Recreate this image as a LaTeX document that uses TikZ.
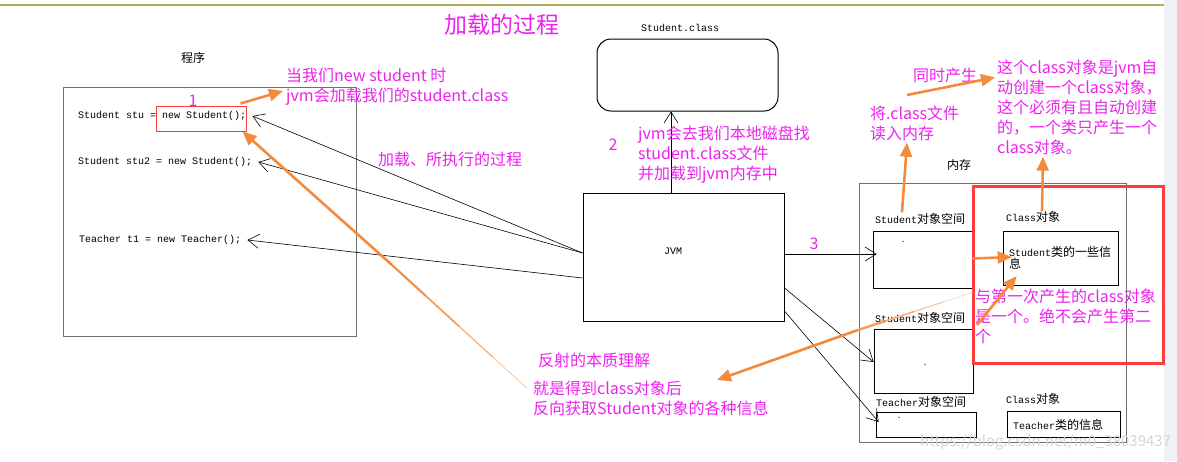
\documentclass[tikz,border=0pt]{standalone}
\usepackage{fontspec}
\setmainfont{Noto Sans CJK SC}
\newfontfamily\cjk{Noto Sans CJK SC}
\newfontfamily\code{Liberation Mono}
\usetikzlibrary{arrows.meta, calc}
\definecolor{bpink}{HTML}{EE22EE}
\definecolor{borange}{HTML}{F58A3C}
\definecolor{bred}{HTML}{FF3C3C}
\definecolor{bgray}{HTML}{707070}
\definecolor{bolive}{HTML}{B0AE5C}
\definecolor{bmark}{HTML}{D6D6D6}
\definecolor{bstrip}{HTML}{EFF1F6}
\tikzstyle{block} = [rectangle, draw=bgray, line width=1pt, inner sep=0pt]
\tikzstyle{space} = [rectangle, draw, line width=0.7pt, inner sep=0pt]
\tikzstyle{arrow} = [draw, line width=0.6pt, -{Straight Barb[length=11pt,width=14pt]}]
\tikzstyle{hint} = [draw=borange, line width=2.6pt, -{Triangle[length=14pt,width=12pt]}]
\tikzstyle{note} = [bpink, font=\cjk\fontsize{16}{20}\selectfont, align=left, inner sep=0pt]
\tikzstyle{src} = [font=\code\fontsize{10}{12}\selectfont, inner sep=0pt]
\newcommand{\zh}[1]{{\cjk\fontsize{12}{14}\selectfont #1}}

\begin{document}
\begin{tikzpicture}[x=1pt, y=-1pt]
\fill[white] (0,0) rectangle (1177,461);
\useasboundingbox (0,0) rectangle (1177,461);
\fill[bstrip] (1164,0) rectangle (1177,461);
\draw[bolive, line width=1.5pt] (0,5) -- (1164,5);

\node[bpink, font=\cjk\fontsize{23}{28}\selectfont, inner sep=0pt] (title) at (502,25) {加载的过程};

%% program
\node[inner sep=0pt] (proglbl) at (193,58) {\zh{程序}};
\node[block, minimum width=293pt, minimum height=249pt] (prog) at (209.5,211.5) {};
\node[src, anchor=west] (stu) at (78,116) {Student stu = new Student();};
\node[src, anchor=west] (stu2) at (78,162) {Student stu2 = new Student();};
\node[src, anchor=west] (tea1) at (79,240) {Teacher t1 = new Teacher();};
\node[draw=bred, line width=1pt, minimum width=90pt, minimum height=25pt, inner sep=0pt] (newstu) at (201,118.5) {};
\node[note] (one) at (193,101) {1};

\node[note, anchor=west] (loadnote) at (286,87) {当我们new student 时\\jvm会加载我们的student.class};
\path[hint] ([xshift=-6pt,yshift=2pt]newstu.north east) -- ([xshift=-3pt,yshift=-4pt]loadnote.west);

\node[note] (steps) at (450,159) {加载、所执行的过程};

%% jvm and class file
\node[src] (clsname) at (680,28) {Student.class};
\node[block, draw=black, rounded corners=14pt, minimum width=181pt, minimum height=72pt] (clsfile) at (687.5,75) {};
\node[block, draw=black, minimum width=201pt, minimum height=128pt] (jvm) at (683.5,257) {};
\node[src] (jvmname) at (673,251) {JVM};

\path[arrow] ([yshift=4pt]jvm.west) -- ([xshift=6pt]stu.east);
\path[arrow] ([yshift=4pt]jvm.west) -- ([xshift=6pt]stu2.east);
\path[arrow] ([yshift=-21pt]jvm.west) -- ([xshift=6pt]tea1.east);

\path[arrow] ([xshift=-12.5pt]jvm.north) -- ([xshift=-16.5pt]clsfile.south);
\node[note] (two) at (613,145) {2};
\node[note, anchor=west] (findnote) at (638,155) {jvm会去我们本地磁盘找\\student.class文件\\并加载到jvm内存中};

%% memory
\node[inner sep=0pt] (memlbl) at (959,165) {\zh{内存}};
\node[block, minimum width=267pt, minimum height=259pt] (mem) at (992.5,312.5) {};
\node[src] (stuAlbl) at (920,219) {Student\zh{对象空间}};
\node[space, minimum width=99pt, minimum height=57pt] (stuA) at (922.5,259.5) {};
\node[src] (stuBlbl) at (920,318) {Student\zh{对象空间}};
\node[space, minimum width=99pt, minimum height=64pt] (stuB) at (923.5,361) {};
\node[src] (tealbl) at (921,402) {Teacher\zh{对象空间}};
\node[space, minimum width=100pt, minimum height=25pt] (teaA) at (926,424.5) {};
\node[src] at (903,245) {\symbol{96}};
\node[src] at (925,368) {\symbol{96}};
\node[src] at (899,421) {\symbol{96}};

\node[src] (clslbl) at (1033,217) {Class\zh{对象}};
\node[space, minimum width=115pt, minimum height=54pt] (clsobj) at (1060.5,258) {};
\node[src, anchor=west, align=left] (clsinfo) at (1009,258) {Student\zh{类的一些信}\\\zh{息}};
\node[src] (teaclslbl) at (1033,399) {Class\zh{对象}};
\node[space, minimum width=113pt, minimum height=26pt] (teacls) at (1063.5,424) {};
\node[src] (teainfo) at (1058,425) {Teacher\zh{类的信息}};

\path[arrow] ([yshift=3pt]jvm.east) -- ([xshift=4pt,yshift=5.5pt]stuA.west);
\node[note] (three) at (814,244) {3};
\path[arrow] ([yshift=-31pt]jvm.east) -- ([yshift=-1pt]stuB.west);
\path[arrow] ([yshift=-54pt]jvm.east) -- ([xshift=3pt,yshift=2.5pt]teaA.west);

\node[draw=bred, line width=3pt, minimum width=190pt, minimum height=177pt, inner sep=0pt] (samebox) at (1068,274.5) {};
\node[note, anchor=west] (samenote) at (975,316) {与第一次产生的class对象\\是一个。绝不会产生第二\\个};

% notes about the class object
\node[note] (sametime) at (945,75) {同时产生};
\node[note, anchor=west] (autonote) at (997,107) {这个class对象是jvm自\\动创建一个class对象，\\这个必须有且自动创建\\的，一个类只产生一个\\class对象。};
\node[note, anchor=west] (readnote) at (870,123) {将.class文件\\读入内存};

\coordinate (sametail) at (907,95);
\path[hint] (sametail) -- ([xshift=-2pt,yshift=-18pt]autonote.north west);
\path[hint] ([xshift=-18pt,yshift=1pt]stuAlbl.north) -- ([xshift=37pt,yshift=-2pt]readnote.south west);
\path[hint] ([xshift=9pt]clslbl.north) -- ([xshift=46pt,yshift=-2pt]autonote.south west);
\path[hint] ([yshift=1pt]stuA.east) -- ([xshift=9pt,yshift=1pt]clsobj.west);
\coordinate (sametail2) at (977,325);
\path[hint] (sametail2) -- ([xshift=14pt,yshift=-18pt]clsobj.west);

% reflection
\node[note] (reflect) at (594,360) {反射的本质理解};
\node[note, anchor=west] (reflnote) at (533,398) {就是得到class对象后\\反向获取Student对象的各种信息};

% tapering tails of the two long arrows
\coordinate (reftip) at (717,380);
\coordinate (fadeA) at (858,330);
\coordinate (tailA) at ([yshift=-4pt]stuA.south east);
\path[hint] (fadeA) -- (reftip);
\foreach \a/\b/\w/\o in {0/0.25/2.2/90, 0.25/0.5/1.6/70, 0.5/0.75/1.1/50, 0.75/1/0.7/35}
  \path[draw=borange!\o, line width=\w pt] ($(fadeA)!\a!(tailA)$) -- ($(fadeA)!\b!(tailA)$);

\coordinate (fadeB) at (392,265);
\coordinate (tailB) at ([xshift=-6pt,yshift=-8pt]reflnote.north west);
\path[hint] (fadeB) -- ([xshift=-4pt]newstu.south east);
\foreach \a/\b/\w/\o in {0/0.25/2.2/95, 0.25/0.5/1.7/85, 0.5/0.75/1.2/70, 0.75/1/0.8/50}
  \path[draw=borange!\o, line width=\w pt] ($(fadeB)!\a!(tailB)$) -- ($(fadeB)!\b!(tailB)$);

\node[bmark, font=\fontsize{15}{18}\selectfont, anchor=west, inner sep=0pt] (mark) at (920,442) {https://blog.csdn.net/m0\_38039437};
\end{tikzpicture}
\end{document}
